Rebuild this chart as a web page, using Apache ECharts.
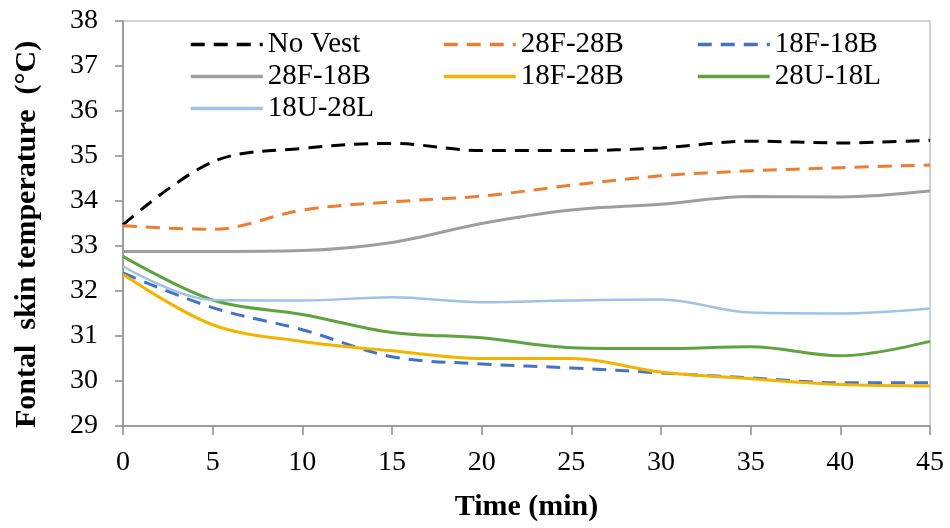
<!DOCTYPE html>
<html>
<head>
<meta charset="utf-8">
<script src="https://cdn.jsdelivr.net/npm/echarts@6/dist/echarts.min.js"></script>
<style>
  html, body { margin: 0; padding: 0; background: #fff; }
  #chart { width: 950px; height: 528px; }
</style>
</head>
<body>
<div id="chart"></div>
<script>
// time points (min)
const times = [0, 5, 10, 15, 20, 25, 30, 35, 40, 45];

// frontal skin temperature (°C) per condition
const noVest = [33.47, 34.87, 35.17, 35.28, 35.12, 35.12, 35.18, 35.33, 35.29, 35.35];
const f28b28 = [33.45, 33.37, 33.8, 33.98, 34.11, 34.35, 34.56, 34.67, 34.74, 34.8];
const f18b18 = [32.4, 31.63, 31.14, 30.54, 30.38, 30.29, 30.18, 30.07, 29.96, 29.96];
const f28b18 = [32.88, 32.88, 32.9, 33.08, 33.5, 33.8, 33.93, 34.1, 34.09, 34.22];
const f18b28 = [32.37, 31.25, 30.88, 30.67, 30.5, 30.5, 30.2, 30.05, 29.92, 29.89];
const u28l18 = [32.77, 31.8, 31.48, 31.08, 30.96, 30.74, 30.72, 30.76, 30.56, 30.88];
const u18l28 = [32.55, 31.8, 31.79, 31.86, 31.75, 31.79, 31.81, 31.52, 31.5, 31.61];

const yTicks = [29, 30, 31, 32, 33, 34, 35, 36, 37, 38];

const seriesDefs = [
  { name: "No Vest", data: noVest, color: "#000000", dash: [14, 9] },
  { name: "28F-28B", data: f28b28, color: "#ED7D31", dash: [14, 9] },
  { name: "18F-18B", data: f18b18, color: "#4472C4", dash: [14, 9] },
  { name: "28F-18B", data: f28b18, color: "#9E9E9E", dash: "solid" },
  { name: "18F-28B", data: f18b28, color: "#F2B400", dash: "solid" },
  { name: "28U-18L", data: u28l18, color: "#5FA340", dash: "solid" },
  { name: "18U-28L", data: u18l28, color: "#9DC3E6", dash: "solid" }
];

// legend slots: 3 columns inside the plot
const legendPos = [
  [189, 30], [442, 30], [696, 30],
  [189, 62], [442, 62], [696, 62],
  [189, 94]
];

const font = "'Liberation Serif', 'DejaVu Serif', serif";

const chart = echarts.init(document.getElementById("chart"));
chart.setOption({
  animation: false,
  grid: {
    left: 123, right: 20, top: 21, bottom: 102,
    show: true, borderColor: "#c4c4c4", borderWidth: 1.5
  },
  legend: seriesDefs.map((s, i) => ({
    data: [s.name],
    left: legendPos[i][0],
    top: legendPos[i][1],
    itemWidth: 72,
    itemHeight: 30,
    itemGap: 0,
    padding: 0,
    itemStyle: { opacity: 0 },
    lineStyle: { width: 3.5 },
    textStyle: { fontFamily: font, fontSize: 29, color: "#000" }
  })),
  xAxis: {
    type: "value",
    min: 0, max: 45, interval: 5,
    name: "Time (min)",
    nameLocation: "middle",
    nameGap: 66,
    nameTextStyle: { fontFamily: font, fontSize: 30, fontWeight: "bold", color: "#000" },
    axisLine: { lineStyle: { color: "#8c8c8c", width: 1.5 } },
    axisTick: { show: true, length: 9, lineStyle: { color: "#8c8c8c", width: 1.5 } },
    axisLabel: { fontFamily: font, fontSize: 28, color: "#000", margin: 23 },
    splitLine: { show: false }
  },
  yAxis: {
    type: "value",
    min: yTicks[0], max: yTicks[yTicks.length - 1], interval: 1,
    name: "Fontal  skin temperature  (°C)",
    nameLocation: "middle",
    nameGap: 81,
    nameRotate: 90,
    nameTextStyle: { fontFamily: font, fontSize: 30, fontWeight: "bold", color: "#000", padding: [0, 22, 0, 0] },
    axisLine: { show: true, lineStyle: { color: "#8c8c8c", width: 1.5 } },
    axisTick: { show: true, length: 8, lineStyle: { color: "#8c8c8c", width: 1.5 } },
    axisLabel: { fontFamily: font, fontSize: 28, color: "#000", margin: 25 },
    splitLine: { show: false }
  },
  series: seriesDefs.map(s => ({
    name: s.name,
    type: "line",
    smooth: 0.35,
    symbol: "none",
    data: times.map((t, i) => [t, s.data[i]]),
    itemStyle: { color: s.color },
    lineStyle: { color: s.color, width: s.name === "18U-28L" ? 2.5 : 3, type: s.dash }
  }))
});
</script>
</body>
</html>
